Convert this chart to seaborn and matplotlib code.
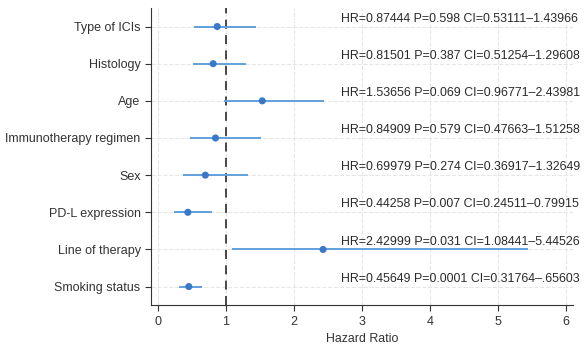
import numpy as np
import pandas as pd
import matplotlib
matplotlib.use('Agg')
import matplotlib.pyplot as plt
import seaborn as sns

# forest plot data
labels = ['Type of ICIs', 'Histology', 'Age', 'Immunotherapy regimen', 'Sex',
          'PD-L expression', 'Line of therapy', 'Smoking status']
hr = [0.87444, 0.81501, 1.53656, 0.84909, 0.69979, 0.44258, 2.42999, 0.45649]
ci_low = [0.53111, 0.51254, 0.96771, 0.47663, 0.36917, 0.24511, 1.08441, 0.31764]
ci_high = [1.43966, 1.29608, 2.43981, 1.51258, 1.32649, 0.79915, 5.44526, 0.65603]
p_vals = ['0.598', '0.387', '0.069', '0.579', '0.274', '0.007', '0.031', '0.0001']
ci_text = ['0.53111–1.43966', '0.51254–1.29608', '0.96771–2.43981', '0.47663–1.51258',
           '0.36917–1.32649', '0.24511–0.79915', '1.08441–5.44526', '0.31764–.65603']

df = pd.DataFrame({'label': labels, 'hr': hr, 'lo': ci_low, 'hi': ci_high})

sns.set_style('whitegrid', {'grid.linestyle': '--', 'grid.color': '#e6e6e6',
                            'axes.edgecolor': '#333333'})
plt.rcParams['font.family'] = ['Liberation Sans', 'DejaVu Sans']

fig = plt.figure(figsize=(5.85, 3.46), dpi=100)
ax = fig.add_axes([0.258, 0.118, 0.721, 0.859])

ypos = np.arange(len(df))
ax.hlines(ypos, df['lo'], df['hi'], color='#62a0dc', lw=1.4, zorder=2)
sns.scatterplot(x='hr', y=ypos, data=df, color='#3a78c9', s=26, edgecolor='none',
                zorder=3, ax=ax)
ax.axvline(1, color='#3a3a3a', ls=(0, (5, 3.5)), lw=1.3, zorder=1)

for i in range(len(df)):
    ax.text(2.7, i - 0.05, f'HR={hr[i]:.5f} P={p_vals[i]} CI={ci_text[i]}',
            ha='left', va='bottom', fontsize=8.9, color='#2a2a2a', clip_on=False)

ax.set_yticks(ypos)
ax.set_yticklabels(labels, fontsize=9, color='#333333')
ax.set_ylim(len(df) - 0.5, -0.5)
ax.set_xlim(-0.1, 6.1)
ax.set_xticks(range(7))
ax.tick_params(axis='x', labelsize=9, colors='#333333', length=4, direction='out', bottom=True)
ax.tick_params(axis='y', length=4, direction='out', left=True, colors='#333333')
ax.set_xlabel('Hazard Ratio', fontsize=8.9, color='#333333')
ax.set_ylabel('')
sns.despine(ax=ax)

fig.savefig('out.png', dpi=100)
